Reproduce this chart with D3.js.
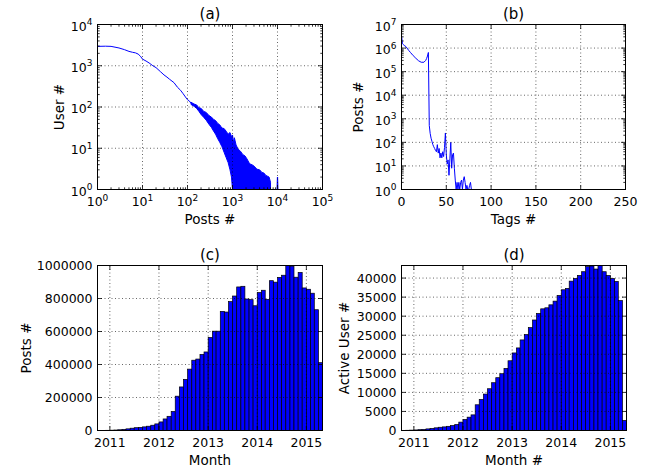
<!DOCTYPE html>
<html>
<head>
<meta charset="utf-8">
<script src="https://d3js.org/d3.v7.min.js"></script>
<style>
  body { margin: 0; background: #fff; }
  svg { display: block; }
  text { font-family: "DejaVu Sans", sans-serif; fill: #000; }
</style>
</head>
<body>
<svg id="fig" width="650" height="468"></svg>
<script>
// ---- (a) users per post count, log-log ----
const aPosts = [1, 1.5, 2, 3, 4, 5, 6, 7, 8, 9, 10, 12, 14, 17, 20, 25, 30, 35, 40, 50, 60, 70, 80, 90, 100, 110, 120];
const aUsers = [2950, 2980, 2950, 2700, 2450, 2230, 2120, 2050, 1920, 1700, 1450, 1300, 1170, 1000, 900, 720, 600, 530, 470, 390, 300, 255, 210, 175, 150, 140, 122];
// noisy part: upper and lower edge of the scatter band
const aBandPosts = [120, 140, 160, 180, 200, 230, 260, 300, 340, 380, 420, 470, 520, 580, 650, 720, 800, 880, 950, 1000,
  1050, 1100, 1200, 1300, 1400, 1500, 1700, 1900, 2100, 2400, 2700, 3000, 3500, 4000, 4500, 5000, 5500, 6000, 6500, 7000];
const aBandHi = [130, 118, 112, 95, 93, 78, 74, 62, 57, 50, 47, 40, 37, 31, 30, 26, 22, 24, 19, 21,
  14, 18, 12, 10, 9, 8.5, 7, 6.5, 5.5, 4.2, 4, 3.7, 3.1, 3, 2.6, 2.5, 2.2, 2.1, 2, 1.5];
const aBandLo = [115, 104, 92, 78, 66, 56, 48, 38, 32, 26, 22, 17, 14, 11, 8, 6, 4.5, 3, 2, 1,
  1, 1, 1, 1, 1, 1, 1, 1, 1, 1, 1, 1, 1, 1, 1, 1, 1, 1, 1, 1];
const aTailPosts = [7000, 8000, 9000, 9800, 10000, 10200, 15000, 25000, 40000, 60000];
const aTailUsers = [1, 1, 1, 1, 2, 1, 1, 1, 1, 1];

// ---- (b) posts per tag count ----
const bTags = [0, 1, 2, 3, 5, 8, 10, 13, 16, 19, 22, 25, 27, 28, 29, 30,
  31, 32, 33, 34, 35, 36, 37, 38, 39, 40, 41, 42, 43, 44, 45, 46, 47, 48, 49, 50,
  51, 52, 53, 54, 55, 56, 57, 58, 59, 60, 61, 62, 63, 64, 65, 66, 67, 68, 69, 70,
  71, 72, 73, 74, 75, 76, 77, 78, 79, 235];
const bPosts = [3.5e6, 1.6e6, 1.4e6, 1.3e6, 1.15e6, 8e5, 6.5e5, 4.8e5, 3.7e5, 2.9e5, 2.5e5, 2.5e5, 3e5, 3.6e5, 4.6e5, 6.5e5,
  520, 240, 150, 110, 80, 65, 55, 45, 40, 80, 35, 55, 22, 35, 22, 40, 25, 60, 250, 30,
  12, 18, 4, 20, 100, 8, 30, 35, 8, 2.5, 1, 2, 1, 2, 1, 2, 2.5, 1, 2.5, 3.5,
  2, 1, 1.5, 1, 1, 1.5, 2, 1, 1, 1];

// ---- (c) posts per month, (d) active users per month ----
const months = d3.timeMonth.range(new Date(2010, 9, 1), new Date(2015, 4, 1)); // Oct 2010 .. Apr 2015
const cPosts = [500, 800, 1200,
  2000, 3000, 4500, 7000, 10000, 14000, 17000, 19000, 22000, 26000, 32000, 40000,
  52000, 70000, 86000, 115000, 208000, 264000, 310000, 372000, 426000, 433000, 461000, 476000,
  564000, 602000, 602000, 722000, 718000, 781000, 815000, 870000, 874000, 797000, 793000, 756000,
  836000, 850000, 795000, 908000, 899000, 928000, 941000, 1000000, 996000, 929000, 958000, 864000,
  856000, 832000, 732000, 411000];
const dUsers = [40, 60, 100,
  150, 220, 300, 420, 550, 700, 850, 950, 1100, 1300, 1580, 2200,
  2900, 3500, 4100, 6750, 8150, 9560, 10960, 12540, 13860, 14900, 16300, 18300,
  20350, 21670, 23770, 25180, 27000, 29000, 30700, 31930, 32200, 32980, 33950, 35440,
  36930, 37280, 39200, 39900, 40700, 41670, 43000, 43160, 42370, 43300, 41670, 40700,
  39900, 39120, 34100, 2630];
const years = [2011, 2012, 2013, 2014, 2015];
const cTicks = [0, 200000, 400000, 600000, 800000, 1000000];
const dTicks = [0, 5000, 10000, 15000, 20000, 25000, 30000, 35000, 40000];

const BLUE = '#0000ff';
const TICK_FS = 12.5, LABEL_FS = 13.5, TITLE_FS = 15;

const svg = d3.select('#fig');
svg.append('rect').attr('width', 650).attr('height', 468).attr('fill', '#fff');

function makePanel(id, left, top, w, h) {
  const g = svg.append('g').attr('transform', `translate(${left + 0.5},${top + 0.5})`);
  g.append('clipPath').attr('id', 'clip-' + id)
    .append('rect').attr('width', w).attr('height', h);
  const plot = g.append('g').attr('clip-path', `url(#clip-${id})`);
  return {g, plot, w, h};
}

function drawGrid(p, x, y, xv, yv) {
  const g = p.plot.append('g')
    .attr('stroke', '#000').attr('stroke-width', 0.6).attr('stroke-dasharray', '1,2.5');
  g.selectAll('line.gx').data(xv).join('line').attr('class', 'gx')
    .attr('x1', d => x(d)).attr('x2', d => x(d)).attr('y1', 0).attr('y2', p.h);
  g.selectAll('line.gy').data(yv).join('line').attr('class', 'gy')
    .attr('x1', 0).attr('x2', p.w).attr('y1', d => y(d)).attr('y2', d => y(d));
}

function drawTicks(p, x, y, xv, yv, len) {
  const g = p.g.append('g').attr('stroke', '#000').attr('stroke-width', 0.8);
  g.selectAll('line.tb').data(xv).join('line').attr('class', 'tb')
    .attr('x1', d => x(d)).attr('x2', d => x(d)).attr('y1', p.h).attr('y2', p.h - len);
  g.selectAll('line.tt').data(xv).join('line').attr('class', 'tt')
    .attr('x1', d => x(d)).attr('x2', d => x(d)).attr('y1', 0).attr('y2', len);
  g.selectAll('line.tl').data(yv).join('line').attr('class', 'tl')
    .attr('x1', 0).attr('x2', len).attr('y1', d => y(d)).attr('y2', d => y(d));
  g.selectAll('line.tr').data(yv).join('line').attr('class', 'tr')
    .attr('x1', p.w).attr('x2', p.w - len).attr('y1', d => y(d)).attr('y2', d => y(d));
}

function frame(p) {
  p.g.append('rect').attr('width', p.w).attr('height', p.h)
    .attr('fill', 'none').attr('stroke', '#000').attr('stroke-width', 1);
}

function powLabel(t, v) {
  t.append('tspan').text('10');
  t.append('tspan').attr('dy', -5.5).attr('font-size', 9).text(Math.round(Math.log10(v)));
}

function xLabels(p, x, vals, fmt, log) {
  vals.forEach(v => {
    const t = p.g.append('text').attr('x', x(v)).attr('y', p.h + 16.5)
      .attr('text-anchor', 'middle').attr('font-size', TICK_FS);
    if (log) powLabel(t, v); else t.text(fmt(v));
  });
}

function yLabels(p, y, vals, fmt, log) {
  vals.forEach(v => {
    const t = p.g.append('text').attr('x', -5).attr('y', y(v) + (log ? 6 : 4.5))
      .attr('text-anchor', 'end').attr('font-size', TICK_FS);
    if (log) powLabel(t, v); else t.text(fmt(v));
  });
}

function titles(p, title, xl, yl, yx) {
  p.g.append('text').attr('x', p.w / 2).attr('y', -6)
    .attr('text-anchor', 'middle').attr('font-size', TITLE_FS).text(title);
  p.g.append('text').attr('x', p.w / 2).attr('y', p.h + 34.5)
    .attr('text-anchor', 'middle').attr('font-size', LABEL_FS).text(xl);
  p.g.append('text').attr('transform', `translate(${yx},${p.h / 2}) rotate(-90)`)
    .attr('text-anchor', 'middle').attr('font-size', LABEL_FS).text(yl);
}

function logMinor(lo, hi) {
  const out = [];
  for (let d = lo; d < hi; d *= 10) for (let k = 2; k <= 9; k++) out.push(d * k);
  return out;
}

// ---------- (a) ----------
{
  const p = makePanel('a', 97, 24, 225, 165);
  const x = d3.scaleLog().domain([1, 1e5]).range([0, p.w]);
  const y = d3.scaleLog().domain([1, 1e4]).range([p.h, 0]);
  const xMaj = [1, 10, 100, 1000, 10000, 100000];
  const yMaj = [1, 10, 100, 1000, 10000];

  p.plot.append('path')
    .datum(d3.range(aBandPosts.length))
    .attr('fill', BLUE).attr('stroke', BLUE).attr('stroke-width', 1)
    .attr('d', d3.area().x(i => x(aBandPosts[i])).y0(i => y(aBandLo[i])).y1(i => y(aBandHi[i])));
  p.plot.append('path')
    .datum(d3.range(aPosts.length))
    .attr('fill', 'none').attr('stroke', BLUE).attr('stroke-width', 1)
    .attr('d', d3.line().x(i => x(aPosts[i])).y(i => y(aUsers[i])));
  p.plot.append('path')
    .datum(d3.range(aTailPosts.length))
    .attr('fill', 'none').attr('stroke', BLUE).attr('stroke-width', 1.2)
    .attr('d', d3.line().x(i => x(aTailPosts[i])).y(i => y(aTailUsers[i])));

  drawGrid(p, x, y, xMaj, yMaj);
  drawTicks(p, x, y, xMaj, yMaj, 4.5);
  drawTicks(p, x, y, logMinor(1, 1e5), logMinor(1, 1e4), 2.2);
  frame(p);
  xLabels(p, x, xMaj, null, true);
  yLabels(p, y, yMaj, null, true);
  titles(p, '(a)', 'Posts #', 'User #', -34);
}

// ---------- (b) ----------
{
  const p = makePanel('b', 401, 24, 224, 165);
  const x = d3.scaleLinear().domain([0, 250]).range([0, p.w]);
  const y = d3.scaleLog().domain([1, 1e7]).range([p.h, 0]);
  const xMaj = [0, 50, 100, 150, 200, 250];
  const yMaj = [1, 10, 100, 1e3, 1e4, 1e5, 1e6, 1e7];

  p.plot.append('path')
    .datum(d3.range(bTags.length))
    .attr('fill', 'none').attr('stroke', BLUE).attr('stroke-width', 1)
    .attr('d', d3.line().x(i => x(bTags[i])).y(i => y(bPosts[i])));

  drawGrid(p, x, y, xMaj, yMaj);
  drawTicks(p, x, y, xMaj, yMaj, 4.5);
  drawTicks(p, x, y, [], logMinor(1, 1e7), 2.2);
  frame(p);
  xLabels(p, x, xMaj, d3.format('d'), false);
  yLabels(p, y, yMaj, null, true);
  titles(p, '(b)', 'Tags #', 'Posts #', -39);
}

// ---------- (c) / (d) monthly bars ----------
function barPanel(id, left, vals, ticks, ymax, title, xl, yl, yx) {
  const p = makePanel(id, left, 265, 225, 165);
  const x = d3.scaleTime().domain([new Date(2010, 9, 1), new Date(2015, 4, 1)]).range([0, p.w]);
  const y = d3.scaleLinear().domain([0, ymax]).range([p.h, 0]);
  const yearDates = years.map(yr => new Date(yr, 0, 1));

  p.plot.selectAll('rect.bar').data(months).join('rect').attr('class', 'bar')
    .attr('x', d => x(d))
    .attr('width', d => x(d3.timeMonth.offset(d, 1)) - x(d))
    .attr('y', (d, i) => y(vals[i]))
    .attr('height', (d, i) => p.h - y(vals[i]))
    .attr('fill', BLUE).attr('stroke', '#000').attr('stroke-width', 0.7);

  drawGrid(p, x, y, yearDates, ticks);
  drawTicks(p, x, y, yearDates, ticks, 4.5);
  frame(p);
  xLabels(p, x, yearDates, d3.timeFormat('%Y'), false);
  yLabels(p, y, ticks, d3.format('d'), false);
  titles(p, title, xl, yl, yx);
}

barPanel('c', 97, cPosts, cTicks, 1000000, '(c)', 'Month', 'Posts #', -67);
barPanel('d', 401, dUsers, dTicks, 43300, '(d)', 'Month #', 'Active User #', -53);
</script>
</body>
</html>
